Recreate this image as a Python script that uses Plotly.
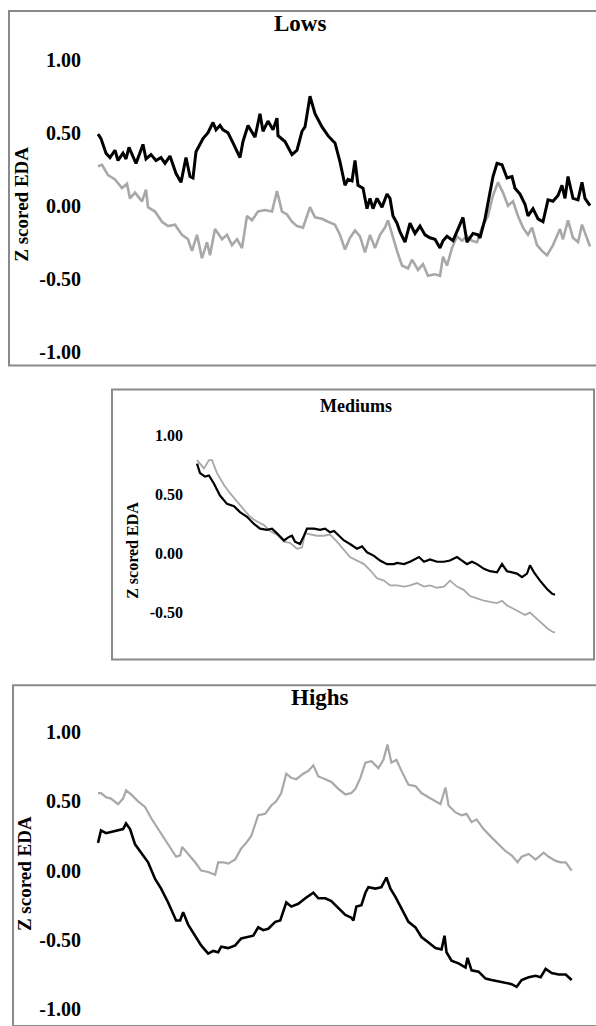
import plotly.graph_objects as go

W, H = 596, 1026

# ---------------- data (time index, z-scored EDA) ----------------
lows_t_black = [0,3,8,12,17,20,25,28,31,35,38,45,48,53,58,63,67,72,78,83,88,92,95,98,105,110,115,118,122,125,
                130,135,142,145,150,157,162,165,170,175,179,180,187,194,199,204,207,212,217,224,230,234,237,242,247,250,
                254,257,260,265,269,272,275,279,284,289,292,295,299,302,307,312,317,322,327,332,337,342,345,349,355,360,
                365,369,375,380,382,387,390,395,399,404,409,414,417,422,427,430,435,440,445,450,455,460,464,467,470,475,
                480,484,487,492]
lows_black = [0.49,0.46,0.36,0.33,0.38,0.31,0.36,0.32,0.40,0.33,0.29,0.42,0.32,0.35,0.31,0.33,0.29,0.34,0.22,0.16,
              0.33,0.20,0.19,0.37,0.46,0.50,0.57,0.52,0.55,0.52,0.50,0.43,0.33,0.44,0.55,0.47,0.63,0.51,0.58,0.52,
              0.60,0.48,0.44,0.35,0.38,0.51,0.54,0.75,0.63,0.54,0.48,0.45,0.43,0.30,0.14,0.18,0.17,0.31,0.14,0.12,
              -0.02,0.05,-0.02,0.05,-0.01,0.08,0.05,-0.07,-0.12,-0.18,-0.25,-0.12,-0.19,-0.14,-0.20,-0.22,-0.23,-0.29,-0.24,-0.21,
              -0.24,-0.16,-0.08,-0.25,-0.19,-0.20,-0.22,-0.09,0.01,0.20,0.29,0.28,0.19,0.20,0.12,0.08,0.01,-0.07,-0.02,-0.09,
              -0.11,0.04,0.03,0.07,0.14,0.05,0.20,0.05,0.04,0.16,0.05,0.00]

lows_t_grey = [0,4,10,17,24,29,32,37,44,48,50,57,64,70,77,84,90,94,99,104,109,112,117,124,129,134,139,144,149,154,
               160,167,174,179,184,189,194,199,205,212,217,224,230,237,242,247,252,257,262,267,272,277,282,287,290,294,
               299,304,310,314,320,325,330,337,342,345,349,354,359,364,369,374,379,384,390,395,400,405,410,415,420,425,
               430,434,439,444,449,455,462,465,470,475,480,484,489,492]
lows_grey = [0.27,0.28,0.21,0.18,0.12,0.15,0.05,0.09,0.03,0.11,-0.01,-0.04,-0.11,-0.14,-0.13,-0.20,-0.23,-0.31,-0.20,-0.36,
             -0.25,-0.34,-0.16,-0.23,-0.20,-0.27,-0.23,-0.29,-0.07,-0.10,-0.04,-0.03,-0.04,0.10,-0.04,-0.06,-0.11,-0.14,-0.15,-0.01,
             -0.08,-0.09,-0.11,-0.13,-0.20,-0.30,-0.22,-0.17,-0.21,-0.32,-0.20,-0.29,-0.20,-0.15,-0.10,-0.20,-0.31,-0.41,-0.43,-0.37,
             -0.44,-0.40,-0.48,-0.47,-0.48,-0.35,-0.41,-0.29,-0.21,-0.24,-0.21,-0.24,-0.25,-0.15,-0.07,0.07,0.16,0.09,0.00,0.03,
             -0.07,-0.15,-0.20,-0.15,-0.27,-0.31,-0.34,-0.27,-0.16,-0.23,-0.10,-0.22,-0.25,-0.13,-0.23,-0.28]

med_t_black = [0,3,8,12,17,23,30,37,43,50,57,63,70,75,80,87,92,95,98,103,107,110,117,123,128,133,137,142,147,153,
               160,165,170,177,183,190,197,200,207,213,222,227,233,240,247,253,260,265,270,275,280,287,293,300,305,310,
               315,320,325,330,333,337,343,350,355,358]
med_black = [0.76,0.68,0.65,0.66,0.59,0.49,0.42,0.40,0.35,0.31,0.25,0.21,0.20,0.21,0.17,0.11,0.14,0.15,0.10,0.08,
             0.15,0.21,0.21,0.20,0.21,0.18,0.19,0.15,0.11,0.08,0.04,0.06,0.01,-0.02,-0.06,-0.09,-0.09,-0.08,-0.09,-0.07,
             -0.03,-0.07,-0.05,-0.07,-0.07,-0.06,-0.03,-0.06,-0.09,-0.07,-0.09,-0.13,-0.15,-0.16,-0.09,-0.15,-0.16,-0.17,-0.20,-0.17,
             -0.10,-0.16,-0.23,-0.30,-0.34,-0.35]

med_t_grey = [0,7,12,15,20,27,33,40,47,53,60,67,73,80,87,93,100,105,108,113,120,127,133,140,147,153,160,167,173,180,
              187,193,200,207,213,220,227,233,240,247,253,260,267,273,280,287,293,300,305,310,317,323,328,333,338,343,
              350,355,358]
med_grey = [0.79,0.72,0.79,0.79,0.68,0.58,0.51,0.44,0.37,0.31,0.27,0.24,0.19,0.16,0.10,0.09,0.04,0.05,0.17,0.16,
            0.15,0.15,0.16,0.10,0.03,-0.03,-0.06,-0.09,-0.14,-0.21,-0.23,-0.27,-0.27,-0.28,-0.27,-0.25,-0.28,-0.27,-0.29,-0.28,
            -0.23,-0.28,-0.31,-0.36,-0.38,-0.40,-0.41,-0.42,-0.40,-0.44,-0.47,-0.50,-0.52,-0.50,-0.54,-0.58,-0.63,-0.66,-0.67]

high_t_black = [0,3,8,13,20,25,28,32,37,43,50,57,63,70,78,82,85,90,97,103,110,115,120,123,130,137,143,150,155,160,
                165,170,177,182,188,193,200,207,215,220,227,233,240,247,253,255,258,263,267,270,277,283,288,292,297,303,
                310,317,323,330,337,343,346,348,353,360,367,369,373,380,387,393,400,407,413,418,423,430,437,442,447,453,
                460,467,473]
high_black = [0.20,0.29,0.27,0.28,0.29,0.30,0.34,0.30,0.19,0.13,0.06,-0.06,-0.13,-0.23,-0.36,-0.36,-0.30,-0.39,-0.47,-0.54,
              -0.60,-0.58,-0.59,-0.55,-0.56,-0.54,-0.49,-0.48,-0.47,-0.41,-0.43,-0.42,-0.37,-0.36,-0.23,-0.26,-0.24,-0.20,-0.16,-0.20,
              -0.20,-0.22,-0.27,-0.32,-0.34,-0.36,-0.26,-0.25,-0.16,-0.12,-0.13,-0.12,-0.05,-0.13,-0.19,-0.27,-0.37,-0.41,-0.48,-0.52,
              -0.56,-0.57,-0.47,-0.59,-0.65,-0.67,-0.70,-0.63,-0.72,-0.73,-0.78,-0.79,-0.80,-0.81,-0.82,-0.84,-0.79,-0.77,-0.76,-0.77,
              -0.71,-0.74,-0.75,-0.75,-0.79]

high_t_grey = [0,3,8,13,20,25,28,33,40,47,53,60,67,73,78,82,84,90,97,103,110,117,120,125,130,137,143,148,153,160,
               167,173,178,183,188,193,198,205,210,215,220,227,233,240,247,253,257,262,267,273,280,285,289,293,298,303,
               310,317,323,330,337,342,347,350,357,363,368,373,378,385,393,400,407,413,419,423,430,437,445,450,457,462,
               467,473]
high_grey = [0.56,0.56,0.53,0.52,0.48,0.52,0.58,0.55,0.50,0.46,0.38,0.30,0.23,0.16,0.10,0.11,0.17,0.12,0.06,0.00,
             -0.01,-0.03,0.06,0.06,0.05,0.08,0.16,0.20,0.25,0.40,0.41,0.47,0.50,0.56,0.70,0.67,0.66,0.70,0.72,0.76,
             0.68,0.66,0.64,0.59,0.55,0.56,0.59,0.67,0.78,0.79,0.74,0.80,0.91,0.78,0.80,0.72,0.62,0.61,0.56,0.53,
             0.50,0.48,0.60,0.47,0.42,0.40,0.41,0.35,0.37,0.30,0.24,0.19,0.14,0.11,0.06,0.10,0.12,0.08,0.13,0.10,
             0.07,0.06,0.06,0.00]

panel_titles = ["Lows", "Mediums", "Highs"]
y_title = "Z scored EDA"
ticks_full = [1.0, 0.5, 0.0, -0.5, -1.0]
ticks_med = [1.0, 0.5, 0.0, -0.5]

BLACK = "#000000"
GREY = "#a8a8a8"
FONT = "Liberation Serif, Times New Roman, serif"
BORDER = "#8a8a8a"


def px_x(p):
    return p / W


def px_y(p):
    return 1 - p / H


fig = go.Figure()

panels = [
    dict(ax="", tb=lows_t_black, b=lows_black, tg=lows_t_grey, g=lows_grey, wb=3, wg=2.6),
    dict(ax="2", tb=med_t_black, b=med_black, tg=med_t_grey, g=med_grey, wb=2.2, wg=1.8),
    dict(ax="3", tb=high_t_black, b=high_black, tg=high_t_grey, g=high_grey, wb=2.6, wg=2.2),
]
for p in panels:
    fig.add_trace(go.Scatter(x=p["tg"], y=p["g"], mode="lines", line=dict(color=GREY, width=p["wg"]),
                             xaxis="x" + p["ax"], yaxis="y" + p["ax"], showlegend=False, hoverinfo="skip"))
    fig.add_trace(go.Scatter(x=p["tb"], y=p["b"], mode="lines", line=dict(color=BLACK, width=p["wb"]),
                             xaxis="x" + p["ax"], yaxis="y" + p["ax"], showlegend=False, hoverinfo="skip"))


def xax(dom, rng):
    return dict(domain=dom, range=rng, visible=False, fixedrange=True)


def yax(dom, rng, pos, tv, fs):
    return dict(domain=dom, range=rng, anchor="free", position=pos,
                tickmode="array", tickvals=tv, ticktext=["%.2f" % v for v in tv],
                showgrid=False, zeroline=False, showline=False, ticks="",
                tickfont=dict(family=FONT, size=fs, color="#000", weight="bold"), fixedrange=True)


fig.update_layout(
    xaxis=xax([px_x(95), px_x(593)], [-3, 495]),
    yaxis=yax([px_y(367.65), px_y(45.35)], [-1.1, 1.1], px_x(81), ticks_full, 20),
    xaxis2=xax([px_x(194), px_x(558)], [-3, 361]),
    yaxis2=yax([px_y(638.7), px_y(425.13)], [-0.7, 1.1], px_x(183), ticks_med, 16),
    xaxis3=xax([px_x(95), px_x(574.7)], [-3, 476]),
    yaxis3=yax([px_y(1019.95), px_y(721.1)], [-1.05, 1.1], px_x(81), ticks_full, 20),
)

shapes = [
    dict(type="rect", xref="paper", yref="paper", x0=px_x(9), x1=px_x(600), y0=px_y(367), y1=px_y(11),
         line=dict(color=BORDER, width=2), layer="below"),
    dict(type="rect", xref="paper", yref="paper", x0=px_x(112), x1=px_x(594), y0=px_y(662), y1=px_y(391),
         line=dict(color=BORDER, width=2), layer="below"),
    dict(type="rect", xref="paper", yref="paper", x0=px_x(13), x1=px_x(600), y0=px_y(1030), y1=px_y(688),
         line=dict(color=BORDER, width=2), layer="below"),
]

annots = []
title_pos = [(300, 24, 23), (356, 408, 18), (320, 700, 23)]
for name, (x, y, fs) in zip(panel_titles, title_pos):
    annots.append(dict(text=name, xref="paper", yref="paper", x=px_x(x), y=px_y(y), showarrow=False,
                       xanchor="center", yanchor="middle",
                       font=dict(family=FONT, size=fs, color="#000", weight="bold")))
ytitle_pos = [(21.5, 205, 19), (133, 553, 16), (24.5, 877, 19)]
for (x, y, fs) in ytitle_pos:
    annots.append(dict(text=y_title, xref="paper", yref="paper", x=px_x(x), y=px_y(y), showarrow=False,
                       textangle=-90, xanchor="center", yanchor="middle",
                       font=dict(family=FONT, size=fs, color="#000", weight="bold")))

fig.update_layout(
    width=W, height=H, margin=dict(l=0, r=0, t=0, b=0, pad=0),
    paper_bgcolor="white", plot_bgcolor="rgba(0,0,0,0)",
    shapes=shapes, annotations=annots, showlegend=False,
)

fig.write_html("out.html", config=dict(displayModeBar=False, staticPlot=True),
               post_script="document.body.style.margin='0';document.body.style.overflow='hidden';")
